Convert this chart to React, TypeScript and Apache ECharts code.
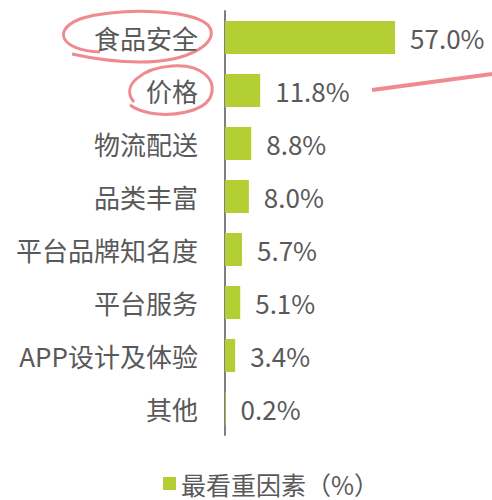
import React, { useEffect, useRef } from "react";
import * as echarts from "echarts";

const categories = ["食品安全", "价格", "物流配送", "品类丰富", "平台品牌知名度", "平台服务", "APP设计及体验", "其他"];
const values = [57.0, 11.8, 8.8, 8.0, 5.7, 5.1, 3.4, 0.2];
const seriesName = "最看重因素（%）";

const ring1 = "M 100 52 C 60 50 52 30 80 19 C 110 8 190 8 208 25 C 222 42 190 62 140 62 C 110 62 90 58 72 54";
const ring2 = "M 134 102 C 120 86 142 68 172 66 C 202 64 218 80 210 98 C 202 112 172 117 150 113 C 140 111 134 108 130 105";

echarts.graphic.registerShape("ring1", (echarts.graphic as any).extendPath(ring1, {}));
echarts.graphic.registerShape("ring2", (echarts.graphic as any).extendPath(ring2, {}));

export default function App() {
  const ref = useRef<HTMLDivElement>(null);
  useEffect(() => {
    if (!ref.current) return;
    const chart = echarts.init(ref.current, null, { renderer: "svg" });
    const font = "'Noto Sans CJK SC', 'Noto Sans', sans-serif";
    chart.setOption({
      animation: false,
      textStyle: { fontFamily: font },
      grid: { left: 225, width: 179, top: 11, height: 424, containLabel: false },
      xAxis: { type: "value", min: 0, max: 60, show: false },
      yAxis: {
        type: "category",
        data: categories,
        inverse: true,
        axisLine: { show: true, lineStyle: { color: "#7f7f7f", width: 2 } },
        axisTick: { show: false },
        axisLabel: { color: "#595959", fontSize: 26, margin: 27, fontFamily: font },
      },
      legend: {
        left: 163,
        top: 471,
        padding: 0,
        itemWidth: 13,
        itemHeight: 13,
        itemGap: 10,
        icon: "rect",
        textStyle: { color: "#595959", fontSize: 25, lineHeight: 25, fontFamily: font },
        data: [seriesName],
      },
      series: [
        {
          name: seriesName,
          type: "bar",
          data: values,
          barWidth: 33,
          itemStyle: { color: "#b3cf34" },
          label: {
            show: true,
            position: "right",
            distance: 15,
            color: "#595959",
            fontSize: 26,
            fontFamily: font,
            formatter: (p: any) => p.value.toFixed(1) + "%",
          },
        },
      ],
      graphic: [
        { type: "ring1", x: 0, y: 0, style: { fill: "none", stroke: "#ef8a8e", lineWidth: 3 }, silent: true },
        { type: "ring2", x: 0, y: 0, style: { fill: "none", stroke: "#ef8a8e", lineWidth: 3 }, silent: true },
        { type: "line", shape: { x1: 372, y1: 90, x2: 492, y2: 74 }, style: { stroke: "#ef8a8e", lineWidth: 4 }, silent: true },
      ],
    });
    return () => chart.dispose();
  }, []);
  return <div ref={ref} style={{ width: 492, height: 500, position: "absolute", left: 0, top: 0 }} />;
}
